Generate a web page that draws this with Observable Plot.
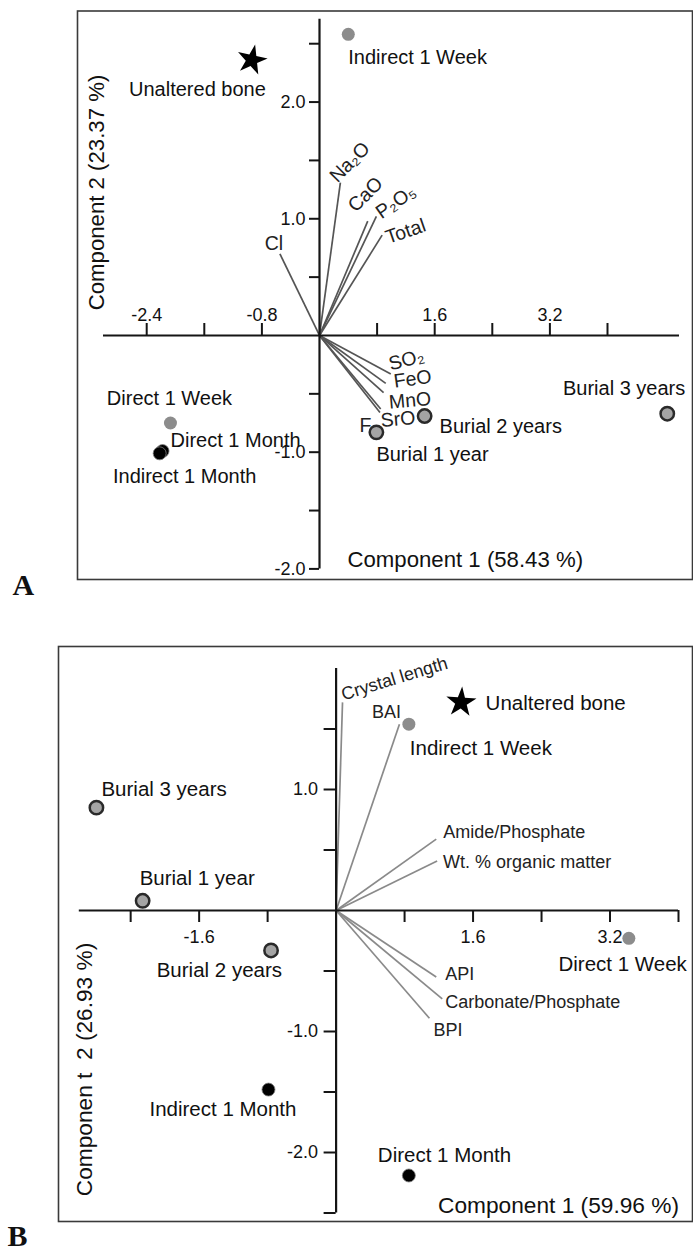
<!DOCTYPE html>
<html><head><meta charset="utf-8">
<script src="https://cdn.jsdelivr.net/npm/d3@7"></script>
<script src="https://cdn.jsdelivr.net/npm/@observablehq/plot@0.6"></script>
<style>
html,body{margin:0;padding:0;background:#fff;}
#wrap{position:relative;width:693px;height:1251px;overflow:hidden;}
#wrap svg{position:absolute;left:0;}
</style></head><body><div id="wrap"></div>
<script>
// ---------- Panel A data ----------
const samplesA = ["Unaltered bone","Indirect 1 Week","Direct 1 Week","Direct 1 Month","Indirect 1 Month","Burial 1 year","Burial 2 years","Burial 3 years"];
const groupsA  = ["unaltered","week","week","month","month","burial","burial","burial"];
const pc1A = [-0.94, 0.40, -2.07, -2.18, -2.22, 0.79, 1.46, 4.83];
const pc2A = [ 2.36, 2.58, -0.75, -0.99, -1.01, -0.83, -0.69, -0.67];
const variablesA = ["Cl","Na₂O","CaO","P₂O₅","Total","SO₂","FeO","MnO","SrO","F"];
const loading1A = [-0.55, 0.29, 0.67, 0.79, 0.87, 0.99, 0.92, 0.89, 0.85, 0.84];
const loading2A = [ 0.70, 1.31, 0.98, 1.02, 0.86, -0.33, -0.41, -0.49, -0.63, -0.66];
const xTicksA = [-2.4,-1.6,-0.8,0.8,1.6,2.4,3.2,4.0];
const xTickLabelsA = [-2.4,-0.8,1.6,3.2];
const yTicksA = [-2,-1.5,-1,-0.5,0.5,1,1.5,2,2.5];
const yTickLabelsA = [-2,-1,1,2];
const xTitleA = "Component 1 (58.43 %)";
const yTitleA = "Component 2 (23.37 %)";

// ---------- Panel B data ----------
const samplesB = ["Unaltered bone","Indirect 1 Week","Burial 3 years","Burial 1 year","Burial 2 years","Direct 1 Week","Indirect 1 Month","Direct 1 Month"];
const groupsB  = ["unaltered","week","burial","burial","burial","week","month","month"];
const pc1B = [1.46, 0.85, -2.80, -2.26, -0.76, 3.42, -0.79, 0.85];
const pc2B = [1.72, 1.54, 0.85, 0.08, -0.33, -0.23, -1.48, -2.19];
const variablesB = ["Crystal length","BAI","Amide/Phosphate","Wt. % organic matter","API","Carbonate/Phosphate","BPI"];
const loading1B = [0.075, 0.74, 1.17, 1.18, 1.17, 1.24, 1.09];
const loading2B = [1.72, 1.54, 0.59, 0.41, -0.55, -0.73, -0.89];
const xTicksB = [-2.4,-1.6,-0.8,0.8,1.6,2.4,3.2,4.0];
const xTickLabelsB = [-1.6,1.6,3.2];
const yTicksB = [-2.5,-2,-1.5,-1,-0.5,0.5,1,1.5];
const yTickLabelsB = [-2,-1,1];
const xTitleB = "Component 1 (59.96 %)";
const yTitleB = "Componen t\u00a0 2 (26.93 %)";

// ---------- layout (pixel offsets, separate from data) ----------
const pointLabelLayoutA = {
  "Unaltered bone":   {dx: 14, dy: 30, anchor: "end"},
  "Indirect 1 Week":  {dx: 0, dy: 23, anchor: "start"},
  "Direct 1 Week":    {dx: -1, dy: -24, anchor: "middle"},
  "Direct 1 Month":   {dx: 8, dy: -10.5, anchor: "start"},
  "Indirect 1 Month": {dx: 25, dy: 23, anchor: "middle"},
  "Burial 1 year":    {dx: 0, dy: 22, anchor: "start"},
  "Burial 2 years":   {dx: 15, dy: 10.5, anchor: "start"},
  "Burial 3 years":   {dx: 18, dy: -25, anchor: "end"}
};
const varLabelLayoutA = {
  "Cl":    {dx: -6, dy: -10, anchor: "middle", line: "middle", rotate: 0},
  "Na₂O":  {dx: -3, dy: 1, anchor: "start", line: "bottom", rotate: -45},
  "CaO":   {dx: -12, dy: -8, anchor: "start", line: "bottom", rotate: -45},
  "P₂O₅":  {dx: 5, dy: 3, anchor: "start", line: "bottom", rotate: -35},
  "Total": {dx: 6, dy: 9, anchor: "start", line: "bottom", rotate: -19},
  "SO₂":   {dx: 0, dy: -3.5, anchor: "start", line: "bottom", rotate: -15},
  "FeO":   {dx: 9, dy: 4.5, anchor: "start", line: "bottom", rotate: -8},
  "MnO":   {dx: 6, dy: 16, anchor: "start", line: "bottom", rotate: -5},
  "SrO":   {dx: 0.5, dy: 18, anchor: "start", line: "bottom", rotate: -5},
  "F":     {dx: -14.5, dy: 13, anchor: "middle", line: "middle", rotate: 0}
};
const pointLabelLayoutB = {
  "Unaltered bone":   {dx: 24.5, dy: 1.5, anchor: "start"},
  "Indirect 1 Week":  {dx: 1, dy: 24, anchor: "start"},
  "Burial 3 years":   {dx: 5, dy: -18, anchor: "start"},
  "Burial 1 year":    {dx: -3, dy: -22, anchor: "start"},
  "Burial 2 years":   {dx: 11, dy: 20, anchor: "end"},
  "Direct 1 Week":    {dx: 58, dy: 26, anchor: "end"},
  "Indirect 1 Month": {dx: 28, dy: 20, anchor: "end"},
  "Direct 1 Month":   {dx: -31, dy: -20, anchor: "start"}
};
const varLabelLayoutB = {
  "Crystal length":       {dx: 1, dy: -2, anchor: "start", line: "bottom", rotate: -17},
  "BAI":                  {dx: -13, dy: -12, anchor: "middle", line: "middle", rotate: 0},
  "Amide/Phosphate":      {dx: 7, dy: -6.6, anchor: "start", line: "middle", rotate: 0},
  "Wt. % organic matter": {dx: 6, dy: 1.3, anchor: "start", line: "middle", rotate: 0},
  "API":                  {dx: 9, dy: -2.6, anchor: "start", line: "middle", rotate: 0},
  "Carbonate/Phosphate":  {dx: 3, dy: 3.4, anchor: "start", line: "middle", rotate: 0},
  "BPI":                  {dx: 4, dy: 12, anchor: "start", line: "middle", rotate: 0}
};

const FONT = "'Liberation Sans', Arial, Helvetica, sans-serif";
const AXIS = "#151515";

function panel(cfg) {
  const pts = cfg.samples.map((name, i) => ({name, group: cfg.groups[i], x: cfg.pc1[i], y: cfg.pc2[i]}));
  const vars = cfg.variables.map((name, i) => ({name, x: cfg.l1[i], y: cfg.l2[i]}));
  const fmt = d => d.toFixed(1);
  const marks = [
    Plot.frame({stroke: "#3a3a3a", strokeWidth: 1.6}),
    Plot.link(vars, {x1: 0, y1: 0, x2: "x", y2: "y", stroke: cfg.vecColor, strokeWidth: 1.7}),
    Plot.ruleY([0], {x1: cfg.xDomain[0], x2: cfg.xDomain[1], stroke: AXIS, strokeWidth: 2.2}),
    Plot.ruleX([0], {y1: cfg.yDomain[0], y2: cfg.yDomain[1], stroke: AXIS, strokeWidth: 2.2}),
    Plot.ruleX(cfg.xTicks, {x: d => d, y1: 0, y2: 0,
      insetTop: cfg.xTickUp ? -12 : 0, insetBottom: cfg.xTickUp ? 0 : -12, stroke: AXIS, strokeWidth: 2}),
    Plot.ruleY(cfg.yTicks, {y: d => d, x1: 0, x2: 0, insetLeft: -cfg.yTickLen, stroke: AXIS, strokeWidth: 2}),
    Plot.text(cfg.xTickLabels, {x: d => d, y: 0, dy: cfg.xLabelDy, text: fmt, fontSize: 18, textAnchor: "middle"}),
    Plot.text(cfg.yTickLabels, {x: 0, y: d => d, dx: cfg.yLabelDx, text: fmt, fontSize: 18, textAnchor: "end"}),
    Plot.dot(pts, {filter: d => d.group === "week", x: "x", y: "y", r: 6.5, fill: "#8c8c8c"}),
    Plot.dot(pts, {filter: d => d.group === "month", x: "x", y: "y", r: 6.5, fill: "#000", stroke: "#808080", strokeWidth: 0.8}),
    Plot.dot(pts, {filter: d => d.group === "burial", x: "x", y: "y", r: 6.7, fill: "#a4a4a4", stroke: "#2a2a2a", strokeWidth: 2.5}),
    Plot.dot(pts, {filter: d => d.group === "unaltered", x: "x", y: "y", symbol: "star", r: 9.5, fill: "#000", rotate: cfg.starRotate}),
    Plot.text([cfg.xTitle], {x: 0, y: cfg.yDomain[0], dx: cfg.xTitleOff[0], dy: cfg.xTitleOff[1], text: d => d, textAnchor: "start", fontSize: cfg.titleFont}),
    Plot.text([cfg.yTitle], {frameAnchor: "left", dx: cfg.yTitleOff[0], dy: cfg.yTitleOff[1], text: d => d, rotate: -90, textAnchor: "middle", lineAnchor: "middle", fontSize: cfg.titleFont}),
    Plot.text([cfg.letter], {frameAnchor: "bottom-left", dx: cfg.letterOff[0], dy: cfg.letterOff[1], text: d => d,
      textAnchor: "start", lineAnchor: "bottom", fontFamily: "'Liberation Serif', 'Times New Roman', serif", fontWeight: "bold", fontSize: 30})
  ];
  for (const v of vars) {
    const L = cfg.varLayout[v.name];
    marks.push(Plot.text([v], {x: "x", y: "y", text: "name", dx: L.dx, dy: L.dy, rotate: L.rotate,
      textAnchor: L.anchor, lineAnchor: L.line, fontSize: cfg.varFont, fill: "#222"}));
  }
  for (const p of pts) {
    const L = cfg.pointLayout[p.name];
    marks.push(Plot.text([p], {x: "x", y: "y", text: "name", dx: L.dx, dy: L.dy,
      textAnchor: L.anchor, lineAnchor: "middle", fontSize: cfg.pointFont, fill: "#111"}));
  }
  return Plot.plot({
    width: 693, height: cfg.height,
    marginLeft: cfg.margins[0], marginTop: cfg.margins[1], marginRight: cfg.margins[2], marginBottom: cfg.margins[3],
    x: {domain: cfg.xDomain, range: cfg.xRange, axis: null},
    y: {domain: cfg.yDomain, range: cfg.yRange, axis: null},
    style: {fontFamily: FONT, background: "white", color: "#111", overflow: "visible"},
    marks
  });
}

const svgA = panel({
  samples: samplesA, groups: groupsA, pc1: pc1A, pc2: pc2A,
  variables: variablesA, l1: loading1A, l2: loading2A,
  xTicks: xTicksA, xTickLabels: xTickLabelsA, yTicks: yTicksA, yTickLabels: yTickLabelsA,
  xTitle: xTitleA, yTitle: yTitleA, letter: "A",
  height: 620, margins: [77, 10.5, 1, 41],
  xDomain: [-3, 5], xRange: [103, 679],
  yDomain: [-2, 2.71], yRange: [568.4, 18.7],
  xTickUp: true, yTickLen: 10, xLabelDy: -20, yLabelDx: -14,
  xTitleOff: [28, -9.4], yTitleOff: [19, -102.75], letterOff: [-65, 15],
  vecColor: "#555", varFont: 19.5, pointFont: 20, titleFont: 22.2, starRotate: 12,
  varLayout: varLabelLayoutA, pointLayout: pointLabelLayoutA
});
svgA.style.top = "0px";

const svgB = panel({
  samples: samplesB, groups: groupsB, pc1: pc1B, pc2: pc2B,
  variables: variablesB, l1: loading1B, l2: loading2B,
  xTicks: xTicksB, xTickLabels: xTickLabelsB, yTicks: yTicksB, yTickLabels: yTickLabelsB,
  xTitle: xTitleB, yTitle: yTitleB, letter: "B",
  height: 631, margins: [58, 26, 1, 30],
  xDomain: [-3, 4], xRange: [78.8, 678],
  yDomain: [-2.5, 2.0], yRange: [592.5, 48],
  xTickUp: false, yTickLen: 12, xLabelDy: 27, yLabelDx: -18,
  xTitleOff: [102, -7.5], yTitleOff: [26, 135.5], letterOff: [-51, 24],
  vecColor: "#8a8a8a", varFont: 18, pointFont: 20.5, titleFont: 22.7, starRotate: 4,
  varLayout: varLabelLayoutB, pointLayout: pointLabelLayoutB
});
svgB.style.top = "620px";

const wrap = document.getElementById("wrap");
wrap.appendChild(svgA);
wrap.appendChild(svgB);
</script></body></html>
